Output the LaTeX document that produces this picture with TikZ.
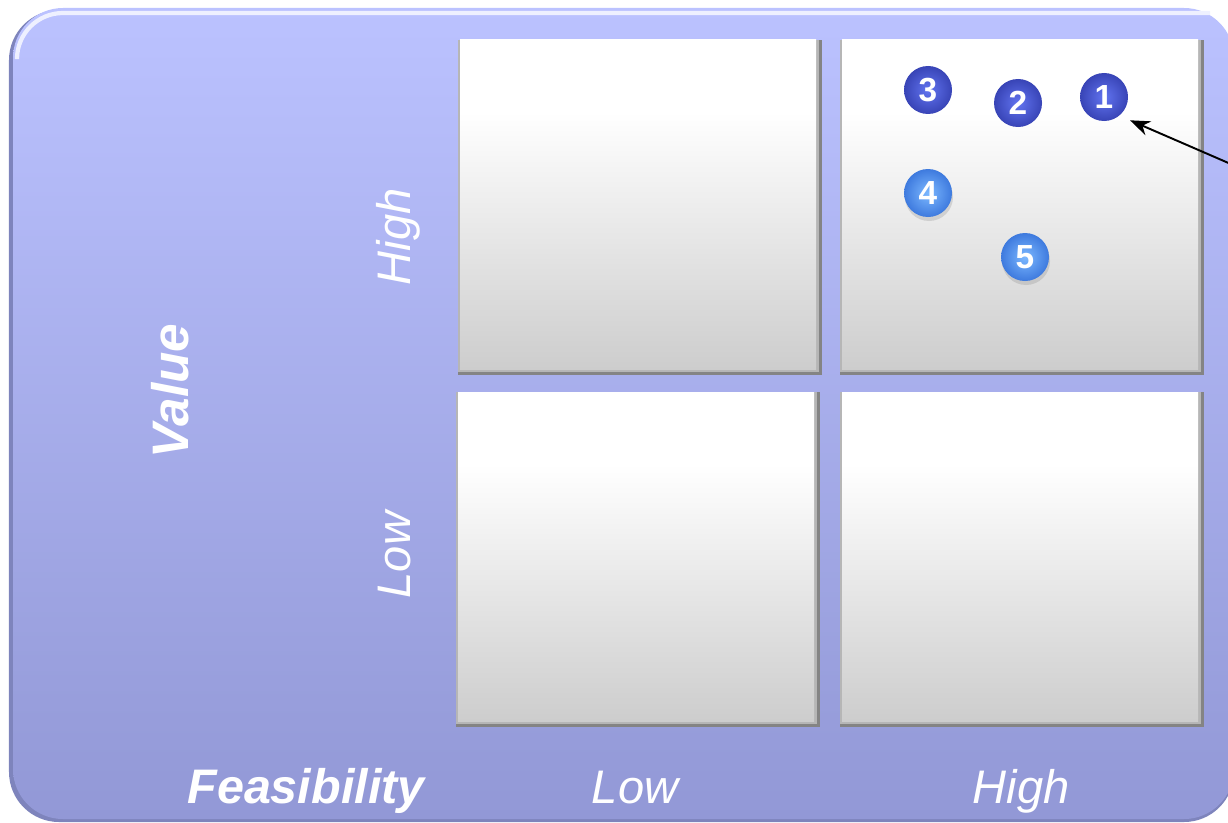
\documentclass[tikz,border=0pt]{standalone}
\usepackage{fontspec}
\setmainfont{Liberation Sans}
\usepackage{tikz}
\usetikzlibrary{arrows.meta,positioning,shadows}

\definecolor{paneltop}{RGB}{187,194,255}
\definecolor{panelbot}{RGB}{146,152,214}
\definecolor{panelrim}{RGB}{126,132,188}
\definecolor{cellgrey}{RGB}{205,205,205}
\definecolor{cellband}{RGB}{182,182,182}
\definecolor{celledge}{RGB}{132,132,132}
\definecolor{darkin}{RGB}{98,116,240}
\definecolor{darkout}{RGB}{56,68,182}
\definecolor{lightin}{RGB}{124,184,255}
\definecolor{lightout}{RGB}{62,122,222}

\pgfdeclareverticalshading{cellshading}{100bp}{color(0bp)=(cellgrey); color(25bp)=(cellgrey); color(64bp)=(white); color(100bp)=(white)}

\begin{document}
\begin{tikzpicture}
\useasboundingbox (0,0) rectangle (12.28,8.22);
	\begin{scope}

\tikzset{bubble/.style={circle,minimum size=0.48cm,inner sep=0pt,shading=radial,
	inner color=#1in,outer color=#1out,text=white,font=\bfseries\fontsize{9.5}{9.5}\selectfont}}
\tikzset{axislabel/.style={text=white,font=\itshape\fontsize{13.4}{16}\selectfont}}
\tikzset{axistitle/.style={text=white,font=\bfseries\itshape\fontsize{13.8}{16}\selectfont}}

% the panel, with its rim and top highlight
\fill[panelrim,rounded corners=0.5cm] (0.09,0.0) rectangle (12.34,8.12);
\shade[top color=paneltop,bottom color=panelbot,rounded corners=0.5cm] (0.13,0.03) rectangle (12.34,8.14);
\draw[white!75!paneltop,line width=1.2pt,rounded corners=0.46cm] (0.17,7.66) |- (12.1,8.09);

% the four cells
\foreach \x/\y in {4.58/4.47, 8.40/4.47, 4.56/0.95, 8.40/0.95}
{
\fill[celledge] (\x,\y) rectangle ++(3.64,3.35);
\fill[cellband] (\x,\y+0.03) rectangle ++(3.61,3.32);
\fill[shading=cellshading] (\x+0.02,\y+0.06) rectangle (\x+3.58,\y+3.35);
}

% the items
\foreach \n/\px/\py in {1/11.04/7.25, 2/10.18/7.19, 3/9.28/7.32}
{
\node[bubble=dark] (b\n) at (\px,\py){\n};
}
\foreach \n/\px/\py in {4/9.28/6.29, 5/10.25/5.65}
{
\node[bubble=light,drop shadow={shadow xshift=0.01cm,shadow yshift=-0.04cm,opacity=0.25}] (b\n) at (\px,\py){\n};
}

% pointer to item 1
\coordinate (note) at (12.40,6.54);
\draw[-{Stealth[length=0.2cm,width=0.15cm]},line width=0.55pt,shorten >=0.11cm] (note) -- (b1.-50);

% axis labels
\node[axistitle,rotate=90,anchor=base,font=\bfseries\itshape\fontsize{14.6}{16}\selectfont] (value) at (1.88,4.31){Value};
\node[axislabel,rotate=90,anchor=base] (vhigh) at (4.10,5.85){High};
\node[axislabel,rotate=90,anchor=base] (vlow) at (4.10,2.67){Low};
\node[axistitle,anchor=base] (feas) at (3.06,0.19){Feasibility};
\node[axislabel,anchor=base] (flow) at (6.35,0.19){Low};
\node[axislabel,anchor=base] (fhigh) at (10.21,0.19){High};

	\end{scope}
\end{tikzpicture}
\end{document}
